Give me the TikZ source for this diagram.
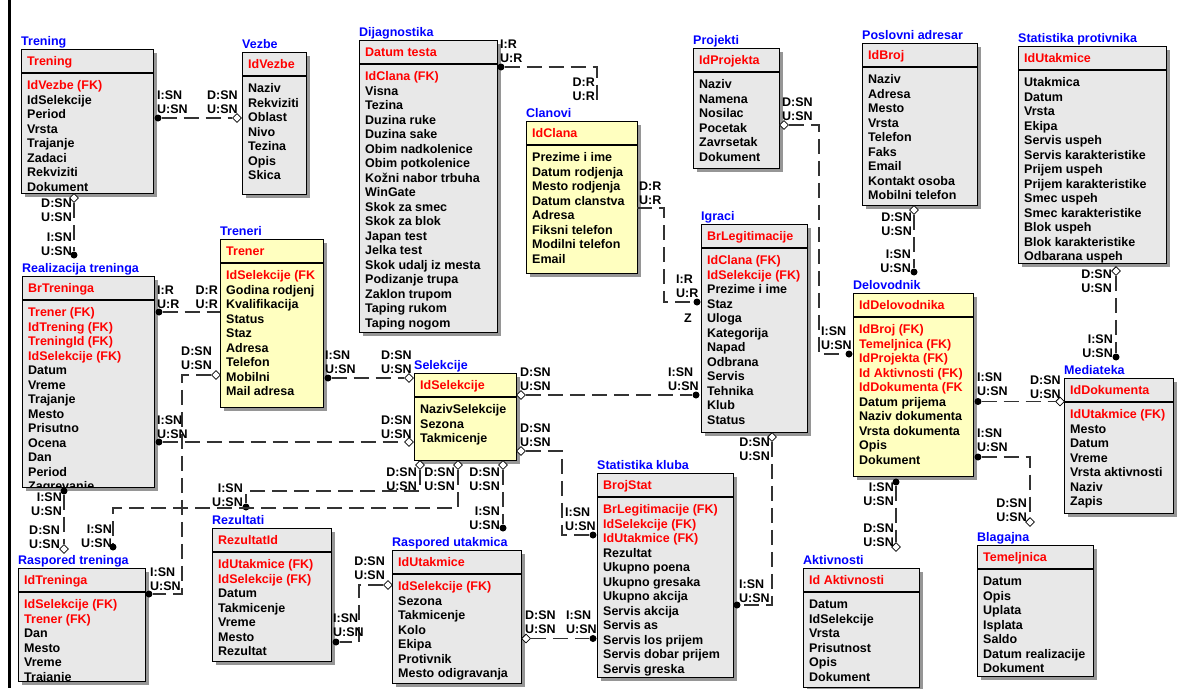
\documentclass[tikz,border=0pt]{standalone}
\usepackage{fontspec}
\setmainfont{Liberation Sans}
\usepackage{tikz}
\usetikzlibrary{shapes.geometric}
\definecolor{entgray}{RGB}{232,232,232}
\definecolor{entyellow}{RGB}{255,255,192}
\definecolor{entshadow}{RGB}{150,150,150}
\definecolor{titleblue}{RGB}{0,0,255}
\definecolor{keyred}{RGB}{255,0,0}
\newcommand{\erfont}{\fontsize{12.5}{14.5}\selectfont\bfseries}
\newcommand{\fk}[1]{\textcolor{keyred}{#1}}
\tikzset{
  entbox/.style={rectangle, draw=black, line width=1.2pt, inner sep=0pt, anchor=north west},
  enttitle/.style={font=\erfont, text=titleblue, inner sep=0pt, anchor=base west},
  enthead/.style={font=\erfont, text=keyred, inner sep=0pt, anchor=base west},
  entattr/.style={font=\erfont, inner sep=0pt, anchor=base west},
  card/.style={font=\erfont, align=left, inner sep=0pt, anchor=north west},
  cardr/.style={font=\erfont, align=right, inner sep=0pt, anchor=north east},
  childdot/.style={circle, fill=black, inner sep=0pt, minimum size=7pt},
  parentdia/.style={diamond, draw=black, fill=white, line width=0.8pt, inner sep=0pt, minimum width=9pt, minimum height=9pt},
  rel/.style={draw=black!80, line width=1.1pt, dash pattern=on 15pt off 7pt}
}
\newcommand{\erentity}[9]{%
  \fill[entshadow] (#3+4,#4+4) rectangle ++(#5,#6);
  \node[entbox, fill=#7, minimum width=#5pt, minimum height=#6pt] (#1) at (#3,#4) {};
  \node[enttitle] (#1-title) at (#3,#4-3.5) {#2};
  \draw[line width=1.2pt] (#3,#4+24) -- ++(#5,0);
  \node[enthead] (#1-key) at (#3+6,#4+16.5) {#8};
  \begin{scope}
    \clip (#3+1,#4+1) rectangle ++(#5-2,#6-2);
    \foreach \a [count=\i from 0] in {#9}
      \node[entattr] (#1-\i) at (#3+6,#4+40.5+14.5*\i) {\a};
  \end{scope}
}

\begin{document}
\begin{tikzpicture}[x=1pt, y=-1pt]
  \useasboundingbox (0,0) rectangle (1182,688);
  \draw[line width=2.5pt] (9.5,0) -- (9.5,688);

  \erentity{trening}{Trening}{21}{49}{132}{144}{entgray}{Trening}{\fk{IdVezbe (FK)},IdSelekcije,Period,Vrsta,Trajanje,Zadaci,Rekviziti,Dokument}
  \erentity{vezbe}{Vezbe}{242}{52}{64}{142}{entgray}{IdVezbe}{Naziv,Rekviziti,Oblast,Nivo,Tezina,Opis,Skica}
  \erentity{dijagnostika}{Dijagnostika}{359}{40}{138}{292}{entgray}{Datum testa}{\fk{IdClana (FK)},Visna,Tezina,Duzina ruke,Duzina sake,Obim nadkolenice,Obim potkolenice,Kožni nabor trbuha,WinGate,Skok za smec,Skok za blok,Japan test,Jelka test,Skok udalj iz mesta,Podizanje trupa,Zaklon trupom,Taping rukom,Taping nogom}
  \erentity{clanovi}{Clanovi}{526}{121}{111}{152}{entyellow}{IdClana}{Prezime i ime,Datum rodjenja,Mesto rodjenja,Datum clanstva,Adresa,Fiksni telefon,Modilni telefon,Email}
  \erentity{projekti}{Projekti}{693}{48}{86}{120}{entgray}{IdProjekta}{Naziv,Namena,Nosilac,Pocetak,Zavrsetak,Dokument}
  \erentity{adresar}{Poslovni adresar}{862}{43}{115}{162}{entgray}{IdBroj}{Naziv,Adresa,Mesto,Vrsta,Telefon,Faks,Email,Kontakt osoba,Mobilni telefon}
  \erentity{statprot}{Statistika protivnika}{1018}{46}{148}{217}{entgray}{IdUtakmice}{Utakmica,Datum,Vrsta,Ekipa,Servis uspeh,Servis karakteristike,Prijem uspeh,Prijem karakteristike,Smec uspeh,Smec karakteristike,Blok uspeh,Blok karakteristike,Odbarana uspeh}
  \erentity{realizacija}{Realizacija treninga}{22}{276}{132}{211}{entgray}{BrTreninga}{\fk{Trener (FK)},\fk{IdTrening (FK)},\fk{TreningId (FK)},\fk{IdSelekcije (FK)},Datum,Vreme,Trajanje,Mesto,Prisutno,Ocena,Dan,Period,Zagrevanje}
  \erentity{treneri}{Treneri}{220}{239}{103}{168}{entyellow}{Trener}{\fk{IdSelekcije (FK},Godina rodjenj,Kvalifikacija,Status,Staz,Adresa,Telefon,Mobilni,Mail adresa}
  \erentity{selekcije}{Selekcije}{414}{373}{102}{87}{entyellow}{IdSelekcije}{NazivSelekcije,Sezona,Takmicenje}
  \erentity{igraci}{Igraci}{701}{224}{106}{208}{entgray}{BrLegitimacije}{\fk{IdClana (FK)},\fk{IdSelekcije (FK)},Prezime i ime,Staz,Uloga,Kategorija,Napad,Odbrana,Servis,Tehnika,Klub,Status}
  \erentity{delovodnik}{Delovodnik}{853}{293}{120}{183}{entyellow}{IdDelovodnika}{\fk{IdBroj (FK)},\fk{Temeljnica (FK)},\fk{IdProjekta (FK)},\fk{Id Aktivnosti (FK)},\fk{IdDokumenta (FK},Datum prijema,Naziv dokumenta,Vrsta dokumenta,Opis,Dokument}
  \erentity{mediateka}{Mediateka}{1064}{378}{109}{135}{entgray}{IdDokumenta}{\fk{IdUtakmice (FK)},Mesto,Datum,Vreme,Vrsta aktivnosti,Naziv,Zapis}
  \erentity{statkluba}{Statistika kluba}{597}{473}{136}{204}{entgray}{BrojStat}{\fk{BrLegitimacije (FK)},\fk{IdSelekcije (FK)},\fk{IdUtakmice (FK)},Rezultat,Ukupno poena,Ukupno gresaka,Ukupno akcija,Servis akcija,Servis as,Servis los prijem,Servis dobar prijem,Servis greska}
  \erentity{rezultati}{Rezultati}{212}{528}{119}{133}{entgray}{RezultatId}{\fk{IdUtakmice (FK)},\fk{IdSelekcije (FK)},Datum,Takmicenje,Vreme,Mesto,Rezultat}
  \erentity{rasputakmica}{Raspored utakmica}{392}{550}{129}{133}{entgray}{IdUtakmice}{\fk{IdSelekcije (FK)},Sezona,Takmicenje,Kolo,Ekipa,Protivnik,Mesto odigravanja}
  \erentity{rasptreninga}{Raspored treninga}{18}{568}{127}{113}{entgray}{IdTreninga}{\fk{IdSelekcije (FK)},\fk{Trener (FK)},Dan,Mesto,Vreme,Trajanje}
  \erentity{aktivnosti}{Aktivnosti}{803}{568}{116}{119}{entgray}{Id Aktivnosti}{Datum,IdSelekcije,Vrsta,Prisutnost,Opis,Dokument}
  \erentity{blagajna}{Blagajna}{977}{545}{116}{131}{entgray}{Temeljnica}{Datum,Opis,Uplata,Isplata,Saldo,Datum realizacije,Dokument}

  % Trening - Vezbe
  \node[childdot] (d1) at (158,118) {};
  \node[parentdia] (p1) at (237,118) {};
  \draw[rel] (d1) -- (p1);
  \node[card] (l1c) at (157,90.5) {I:SN\\U:SN};
  \node[card] (l1p) at (207,90.5) {D:SN\\U:SN};
  % Trening - Realizacija treninga
  \node[parentdia] (p2) at (74,198) {};
  \node[childdot] (d2) at (74,255) {};
  \draw[rel] (p2) -- (d2);
  \node[cardr] (l2p) at (72,198.5) {D:SN\\U:SN};
  \node[cardr] (l2c) at (72,232.5) {I:SN\\U:SN};
  % Treneri - Realizacija treninga
  \node[childdot] (d3) at (159,312) {};
  \coordinate (e3) at (220,312);
  \draw[rel] (d3) -- (e3);
  \node[card] (l3c) at (157,285.5) {I:R\\U:R};
  \node[cardr] (l3p) at (218,285.5) {D:R\\U:R};
  % Treneri - Raspored treninga
  \node[parentdia] (p4) at (216,375) {};
  \node[childdot] (d4) at (149,594) {};
  \coordinate (c4) at (182,480);
  \draw[rel] (p4) -| (c4) |- (d4);
  \node[cardr] (l4p) at (212,346.5) {D:SN\\U:SN};
  \node[card] (l4c) at (150,567.5) {I:SN\\U:SN};
  % Selekcije - Realizacija treninga
  \node[childdot] (d5) at (159,442) {};
  \node[parentdia] (p5) at (409,442) {};
  \draw[rel] (d5) -- (p5);
  \node[card] (l5c) at (157,415.5) {I:SN\\U:SN};
  \node[card] (l5p) at (381,415.5) {D:SN\\U:SN};
  % Selekcije - Treneri
  \node[childdot] (d6) at (328,378) {};
  \node[parentdia] (p6) at (409,378) {};
  \draw[rel] (d6) -- (p6);
  \node[card] (l6c) at (325,350.5) {I:SN\\U:SN};
  \node[card] (l6p) at (381,350.5) {D:SN\\U:SN};
  % Selekcije - Igraci
  \node[parentdia] (p7) at (521,395) {};
  \node[childdot] (d7) at (696,395) {};
  \draw[rel] (p7) -- (d7);
  \node[card] (l7p) at (520,367.5) {D:SN\\U:SN};
  \node[card] (l7c) at (668,367.5) {I:SN\\U:SN};
  % Selekcije - Statistika kluba
  \node[parentdia] (p8) at (521,451) {};
  \node[childdot] (d8) at (593,535) {};
  \coordinate (c8) at (562,490);
  \draw[rel] (p8) -| (c8) |- (d8);
  \node[card] (l8p) at (520,423.5) {D:SN\\U:SN};
  \node[card] (l8c) at (565,507.5) {I:SN\\U:SN};
  % Raspored utakmica - Statistika kluba
  \node[parentdia] (p9) at (526,638.5) {};
  \node[childdot] (d9) at (593,638.5) {};
  \draw[rel] (p9) -- (d9);
  \node[card] (l9p) at (525,610.5) {D:SN\\U:SN};
  \node[card] (l9c) at (566,610.5) {I:SN\\U:SN};
  % Igraci - Statistika kluba
  \node[parentdia] (p10) at (772,437) {};
  \node[childdot] (d10) at (737,605) {};
  \draw[rel] (p10) |- (d10);
  \node[cardr] (l10p) at (770,437.5) {D:SN\\U:SN};
  \node[card] (l10c) at (739,579.5) {I:SN\\U:SN};
  % Selekcije - Rezultati, Raspored treninga, Raspored utakmica
  \node[parentdia] (p11a) at (420,465) {};
  \node[childdot] (d11a) at (246,507) {};
  \coordinate (c11a) at (330,491);
  \draw[rel] (p11a) |- (c11a) -| (d11a);
  \node[cardr] (l11ap) at (417,467.5) {D:SN\\U:SN};
  \node[cardr] (l11ac) at (243,483.5) {I:SN\\U:SN};
  \node[parentdia] (p11b) at (458,465) {};
  \node[childdot] (d11b) at (113,547) {};
  \coordinate (c11b) at (300,508);
  \draw[rel] (p11b) |- (c11b) -| (d11b);
  \node[cardr] (l11bp) at (455,467.5) {D:SN\\U:SN};
  \node[cardr] (l11bc) at (112,524.5) {I:SN\\U:SN};
  \node[parentdia] (p11c) at (503,465) {};
  \node[childdot] (d11c) at (503,528) {};
  \draw[rel] (p11c) -- (d11c);
  \node[cardr] (l11cp) at (500,467.5) {D:SN\\U:SN};
  \node[cardr] (l11cc) at (500,506.5) {I:SN\\U:SN};
  % Raspored utakmica - Rezultati
  \node[parentdia] (p12) at (388,585) {};
  \node[childdot] (d12) at (336,642) {};
  \coordinate (c12) at (359,610);
  \draw[rel] (p12) -| (c12) |- (d12);
  \node[cardr] (l12p) at (385,556.5) {D:SN\\U:SN};
  \node[card] (l12c) at (333,613.5) {I:SN\\U:SN};
  % Raspored treninga - Realizacija treninga
  \node[childdot] (d13) at (64,491) {};
  \node[parentdia] (p13) at (64,549) {};
  \draw[rel] (d13) -- (p13);
  \node[cardr] (l13c) at (62,492.5) {I:SN\\U:SN};
  \node[cardr] (l13p) at (60,525.5) {D:SN\\U:SN};
  % Clanovi - Dijagnostika
  \node[childdot] (d14) at (501,67) {};
  \coordinate (e14) at (597,106);
  \draw[rel] (d14) -| (e14);
  \node[card] (l14c) at (500,39.5) {I:R\\U:R};
  \node[cardr] (l14p) at (595,77.5) {D:R\\U:R};
  % Clanovi - Igraci
  \coordinate (e15) at (637,208);
  \node[childdot] (d15) at (697,302) {};
  \coordinate (c15) at (664,250);
  \draw[rel] (e15) -| (c15) |- (d15);
  \node[card] (l15p) at (639,181.5) {D:R\\U:R};
  \node[card] (l15c) at (676,274.5) {I:R\\U:R};
  \node[font=\erfont, inner sep=0pt] (z15) at (688,318) {Z};
  % Projekti - Delovodnik
  \node[parentdia] (p16) at (784,125) {};
  \node[childdot] (d16) at (849,354) {};
  \coordinate (c16) at (819,240);
  \draw[rel] (p16) -| (c16) |- (d16);
  \node[card] (l16p) at (782,97.5) {D:SN\\U:SN};
  \node[card] (l16c) at (821,326.5) {I:SN\\U:SN};
  % Poslovni adresar - Delovodnik
  \node[parentdia] (p17) at (914,210) {};
  \node[childdot] (d17) at (914,272) {};
  \draw[rel] (p17) -- (d17);
  \node[cardr] (l17p) at (912,212.5) {D:SN\\U:SN};
  \node[cardr] (l17c) at (911,249.5) {I:SN\\U:SN};
  % Statistika protivnika - Mediateka
  \node[parentdia] (p18) at (1116,271) {};
  \node[childdot] (d18) at (1116,357) {};
  \draw[rel] (p18) -- (d18);
  \node[cardr] (l18p) at (1112,269.5) {D:SN\\U:SN};
  \node[cardr] (l18c) at (1113,334.5) {I:SN\\U:SN};
  % Mediateka - Delovodnik
  \node[childdot] (d19) at (978,401.5) {};
  \node[parentdia] (p19) at (1060,401.5) {};
  \draw[rel] (d19) -- (p19);
  \node[card] (l19c) at (977,372.5) {I:SN\\U:SN};
  \node[card] (l19p) at (1030,375.5) {D:SN\\U:SN};
  % Blagajna - Delovodnik
  \node[childdot] (d20) at (978,457) {};
  \node[parentdia] (p20) at (1030,522) {};
  \draw[rel] (d20) -| (p20);
  \node[card] (l20c) at (977,428.5) {I:SN\\U:SN};
  \node[cardr] (l20p) at (1027,498.5) {D:SN\\U:SN};
  % Aktivnosti - Delovodnik
  \node[childdot] (d21) at (896,482) {};
  \node[parentdia] (p21) at (896,547) {};
  \draw[rel] (d21) -- (p21);
  \node[cardr] (l21c) at (894,482.5) {I:SN\\U:SN};
  \node[cardr] (l21p) at (894,523.5) {D:SN\\U:SN};
\end{tikzpicture}
\end{document}
